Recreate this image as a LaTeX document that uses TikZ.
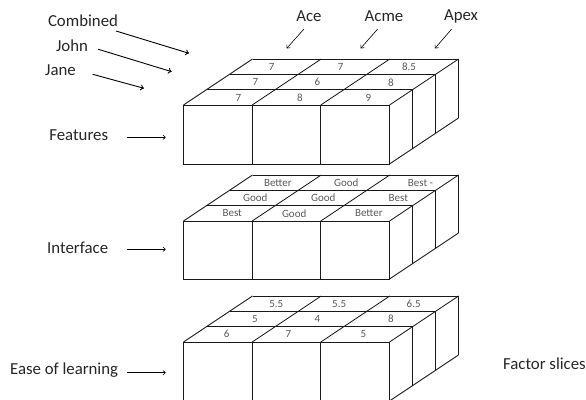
\documentclass[tikz,border=0pt]{standalone}
\usepackage{fontspec}
\setmainfont{Carlito}
\usetikzlibrary{arrows.meta}
\tikzset{
  lab/.style={font=\fontsize{16.8}{19}\selectfont, inner sep=0pt, text=black!85},
  cell/.style={font=\fontsize{11}{12}\selectfont, inner sep=0pt, text=black!65},
  arr/.style={line width=0.9pt, -{To[length=3.5pt,width=6pt]}},
  thinarr/.style={line width=0.6pt, -{To[length=3pt,width=5pt]}},
  edge/.style={line width=0.85pt, draw=black!90},
}
% slab: #1 = front top y, #2 = height
\newcommand\myslab[2]{%
  \pgfmathsetmacro\ft{#1}\pgfmathsetmacro\fb{#1+#2}%
  % front face
  \draw[edge] (183.5,\ft) rectangle (389.5,\fb);
  \draw[edge] (252.2,\ft) -- (252.2,\fb);
  \draw[edge] (320.8,\ft) -- (320.8,\fb);
  % top face rows
  \foreach \k in {1,2,3}{
    \draw[edge] ({183.5+23*\k},{\ft-15.33*\k}) -- ({389.5+23*\k},{\ft-15.33*\k});
  }
  % top face columns
  \foreach \c in {0,1,2,3}{
    \draw[edge] ({183.5+68.67*\c},\ft) -- ({252.5+68.67*\c},{\ft-46});
  }
  % right face verticals
  \foreach \k in {1,2,3}{
    \draw[edge] ({389.5+23*\k},{\ft-15.33*\k}) -- ({389.5+23*\k},{\fb-15.33*\k});
  }
  \draw[edge] (389.5,\fb) -- (458.5,{\fb-46});
}
\begin{document}
\begin{tikzpicture}[x=1pt,y=-1pt]
\useasboundingbox (0,0) rectangle (586,399);
\begin{scope}
\clip (0,0) rectangle (586,399);
\myslab{105}{59}
\myslab{221}{58}
\myslab{342}{59}
\end{scope}

% slab 1 cell values
\node[cell] (a1) at (271.7,66.9) {7};
\node[cell] (a2) at (340.7,66.9) {7};
\node[cell] (a3) at (409,66.9) {8.5};
\node[cell] (a4) at (255.3,82.3) {7};
\node[cell] (a5) at (317.3,82.3) {6};
\node[cell] (a6) at (391,82.3) {8};
\node[cell] (a7) at (238.3,97.5) {7};
\node[cell] (a8) at (300,97.5) {8};
\node[cell] (a9) at (368.3,97.5) {9};

% slab 2 cell values
\node[cell] (b1) at (277.8,182.6) {Better};
\node[cell] (b2) at (346.3,182.6) {Good};
\node[cell] (b3) at (420.5,182.6) {Best -};
\node[cell] (b4) at (255.3,197.8) {Good};
\node[cell] (b5) at (323.3,197.8) {Good};
\node[cell] (b6) at (398.3,197.8) {Best};
\node[cell] (b7) at (232.2,213.3) {Best};
\node[cell] (b8) at (294.2,213.3) {Good};
\node[cell] (b9) at (368.8,213.3) {Better};

% slab 3 cell values
\node[cell] (c1) at (276.3,303.6) {5.5};
\node[cell] (c2) at (339.2,303.6) {5.5};
\node[cell] (c3) at (413.7,303.6) {6.5};
\node[cell] (c4) at (255,319) {5};
\node[cell] (c5) at (317.3,319) {4};
\node[cell] (c6) at (391,319) {8};
\node[cell] (c7) at (226.7,334.3) {6};
\node[cell] (c8) at (288.3,334.3) {7};
\node[cell] (c9) at (363.3,334.3) {5};

% top labels
\node[lab] (ace) at (309,16) {Ace};
\node[lab] (acme) at (384,16) {Acme};
\node[lab] (apex) at (461,16) {Apex};
\coordinate (aceA) at (304,29); \coordinate (aceB) at (286.7,48.3);
\coordinate (acmeA) at (377.7,29); \coordinate (acmeB) at (360.7,48.3);
\coordinate (apexA) at (451.7,29); \coordinate (apexB) at (435,48.3);
\draw[thinarr] (aceA) -- (aceB);
\draw[thinarr] (acmeA) -- (acmeB);
\draw[thinarr] (apexA) -- (apexB);

% left top labels
\node[lab] (comb) at (83,20.5) {Combined};
\node[lab] (john) at (72,45.5) {John};
\node[lab] (jane) at (60.5,70) {Jane};
\coordinate (combA) at (116,31); \coordinate (combB) at (189,53.3);
\coordinate (johnA) at (98.3,49.3); \coordinate (johnB) at (171.7,71.7);
\coordinate (janeA) at (92.7,74.3); \coordinate (janeB) at (144,88.3);
\draw[arr] (combA) -- (combB);
\draw[arr] (johnA) -- (johnB);
\draw[arr] (janeA) -- (janeB);

% factor labels
\node[lab, anchor=east] (feat) at (108.3,135) {Features};
\node[lab, anchor=east] (intf) at (108.3,247.5) {Interface};
\node[lab, anchor=east] (ease) at (118.3,370.5) {Ease of learning};
\coordinate (featB) at (165.7,137.3);
\coordinate (intfB) at (165.7,249.3);
\coordinate (easeB) at (165.7,372.7);
\draw[thinarr] ([xshift=18.4pt,yshift=-2.3pt]feat.east) -- (featB);
\draw[thinarr] ([xshift=18.4pt,yshift=-1.8pt]intf.east) -- (intfB);
\draw[thinarr] ([xshift=8.4pt,yshift=-2.2pt]ease.east) -- (easeB);

\node[lab, anchor=east] (fs) at (586,364) {Factor slices};
\end{tikzpicture}
\end{document}
